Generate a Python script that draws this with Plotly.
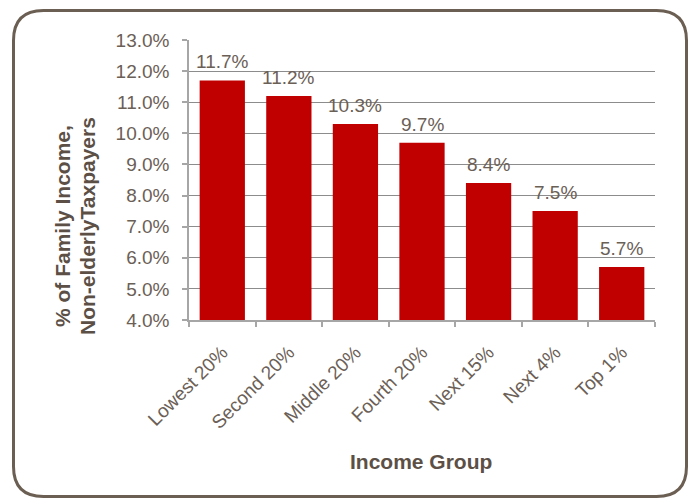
import plotly.graph_objects as go

categories = ["Lowest 20%", "Second 20%", "Middle 20%", "Fourth 20%", "Next 15%", "Next 4%", "Top 1%"]
values = [11.7, 11.2, 10.3, 9.7, 8.4, 7.5, 5.7]
y_ticks = [4, 5, 6, 7, 8, 9, 10, 11, 12, 13]
y_tick_labels = [f"{v:.1f}%" for v in y_ticks]
y_title_lines = ["% of Family Income,", "Non-elderlyTaxpayers"]
x_title = "Income Group"

W, H = 690, 498
L, R, T, B = 189, 35, 40, 178
pw, ph = W - L - R, H - T - B

def px(x):
    return (x - L) / pw

def py(y):
    return (H - B - y) / ph

FONT = "Liberation Sans, Arial"
text_col = "#6b6056"
title_col = "#5c5046"
border_col = "#6b5e52"

fig = go.Figure()
fig.add_trace(go.Bar(
    x=categories, y=values, marker_color="#c00000",
    marker_line_width=0, width=0.68,
))

annotations = []
for c, v in zip(categories, values):
    annotations.append(dict(
        x=c, y=v, xref="x", yref="y", text=f"{v:.1f}%", showarrow=False,
        yanchor="bottom", yshift=6,
        font=dict(family=FONT, size=19, color=text_col),
    ))

# y-axis title lines
for line, cx in zip(y_title_lines, [62, 87]):
    annotations.append(dict(
        x=px(cx), y=py(226), xref="paper", yref="paper", text=f"<b>{line}</b>",
        showarrow=False, textangle=-90, xanchor="center", yanchor="middle",
        font=dict(family=FONT, size=21, color=title_col),
    ))
# x-axis title
annotations.append(dict(
    x=px(421), y=py(461), xref="paper", yref="paper", text=f"<b>{x_title}</b>",
    showarrow=False, xanchor="center", yanchor="middle",
    font=dict(family=FONT, size=21, color=title_col),
))

# rounded border
x0, x1, y0, y1, r = 13.5, 686.5, 10.5, 496.5, 30
path = (
    f"M {px(x0 + r)},{py(y0)} L {px(x1 - r)},{py(y0)} "
    f"Q {px(x1)},{py(y0)} {px(x1)},{py(y0 + r)} "
    f"L {px(x1)},{py(y1 - r)} Q {px(x1)},{py(y1)} {px(x1 - r)},{py(y1)} "
    f"L {px(x0 + r)},{py(y1)} Q {px(x0)},{py(y1)} {px(x0)},{py(y1 - r)} "
    f"L {px(x0)},{py(y0 + r)} Q {px(x0)},{py(y0)} {px(x0 + r)},{py(y0)} Z"
)

fig.update_layout(
    width=W, height=H,
    margin=dict(l=L, r=R, t=T, b=B, pad=0),
    paper_bgcolor="white", plot_bgcolor="white",
    showlegend=False,
    bargap=0.32,
    annotations=annotations,
    shapes=[dict(type="path", path=path, xref="paper", yref="paper",
                 line=dict(color=border_col, width=3), layer="above")],
    xaxis=dict(
        showgrid=False, showline=True, linecolor="#a6a6a6", linewidth=1.5,
        ticks="outside", ticklen=5, tickcolor="#a6a6a6", tickwidth=1.5,
        tickson="boundaries", tickangle=-45, ticklabelstandoff=12,
        tickfont=dict(family=FONT, size=19, color=text_col),
    ),
    yaxis=dict(
        range=[4, 13], tickvals=y_ticks, ticktext=y_tick_labels,
        showgrid=True, gridcolor="#8c8c8c", gridwidth=1,
        showline=True, linecolor="#a6a6a6", linewidth=1.5,
        ticks="outside", ticklen=5, tickcolor="#a6a6a6", tickwidth=1.5,
        zeroline=False, ticklabelstandoff=9,
        tickfont=dict(family=FONT, size=19, color=text_col),
    ),
)

fig.write_html("out.html")
